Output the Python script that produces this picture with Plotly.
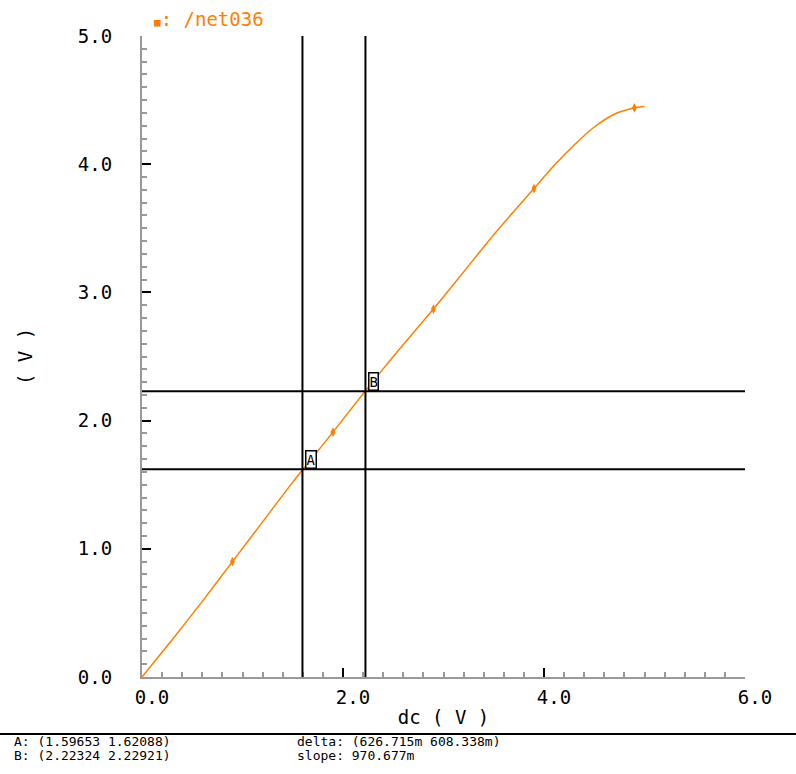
import plotly.graph_objects as go

# DC sweep of /net036
vin = [0.0, 0.3, 0.6, 0.9, 1.2, 1.5, 1.9, 2.2, 2.5, 2.9, 3.2, 3.5, 3.9, 4.1, 4.3, 4.5, 4.7, 4.9, 5.0]
vout = [0.0, 0.29, 0.59, 0.90, 1.21, 1.52, 1.91, 2.21, 2.50, 2.87, 3.16, 3.45, 3.81, 3.99, 4.15, 4.29, 4.39, 4.44, 4.45]
marker_idx = [3, 6, 9, 12, 17]

# cursor readouts
cursor_a = (1.59653, 1.62088)
cursor_b = (2.22324, 2.22921)
delta_mv = (626.715, 608.338)
slope_m = 970.677

x_ticks = [0.0, 2.0, 4.0, 6.0]
y_ticks = [0.0, 1.0, 2.0, 3.0, 4.0, 5.0]

ORANGE = "#ff8000"
MONO = "DejaVu Sans Mono"
W, H = 796, 774
ML, MR, MT, MB = 142, 51, 36, 97
PW, PH = W - ML - MR, H - MT - MB

fig = go.Figure()
fig.add_trace(go.Scatter(
    x=vin, y=vout, mode="lines",
    line=dict(color=ORANGE, width=1.5, shape="spline", smoothing=0.6),
    showlegend=False, hoverinfo="skip"))
fig.add_trace(go.Scatter(
    x=[vin[i] for i in marker_idx], y=[vout[i] for i in marker_idx], mode="markers",
    marker=dict(color=ORANGE, symbol="diamond-tall", size=7),
    showlegend=False, hoverinfo="skip"))

# cursor crosshairs
for cx, cy in (cursor_a, cursor_b):
    fig.add_shape(type="line", xref="x", yref="paper", x0=cx, x1=cx, y0=0, y1=1,
                  line=dict(color="black", width=2))
    fig.add_shape(type="line", xref="paper", yref="y", x0=0, x1=1, y0=cy, y1=cy,
                  line=dict(color="black", width=2))

for name, (cx, cy) in (("A", cursor_a), ("B", cursor_b)):
    fig.add_annotation(x=cx, y=cy, xref="x", yref="y", text=name, showarrow=False,
                       xanchor="left", yanchor="bottom", xshift=3, yshift=0,
                       font=dict(family=MONO, size=14, color="black"),
                       bordercolor="black", borderwidth=1.5, borderpad=0,
                       bgcolor="white")

# bottom rule and readouts
rule_y = (H - MB - 734) / PH
fig.add_shape(type="line", xref="paper", yref="paper",
              x0=-ML / PW, x1=1 + MR / PW, y0=rule_y, y1=rule_y,
              line=dict(color="black", width=2))

readouts = [
    (12, 741, f"A: ({cursor_a[0]:.5f} {cursor_a[1]:.5f})"),
    (12, 755, f"B: ({cursor_b[0]:.5f} {cursor_b[1]:.5f})"),
    (295, 741, f"delta: ({delta_mv[0]:.3f}m {delta_mv[1]:.3f}m)"),
    (295, 755, f"slope: {slope_m:.3f}m"),
]
for px, py, txt in readouts:
    fig.add_annotation(x=(px - ML) / PW, y=(H - MB - py) / PH, xref="paper", yref="paper",
                       text=txt, showarrow=False, xanchor="left", yanchor="middle",
                       font=dict(family=MONO, size=13, color="black"))

# signal name label
fig.add_annotation(x=(152 - ML) / PW, y=(H - MB - 19) / PH, xref="paper", yref="paper",
                   text="<span style='font-size:11px'>■</span>: /net036", showarrow=False,
                   xanchor="left", yanchor="middle",
                   font=dict(family=MONO, size=19, color=ORANGE))

fig.update_xaxes(
    range=[0, 6], tickvals=x_ticks, ticktext=[f"{v:.1f}" for v in x_ticks],
    ticks="inside", ticklen=9, tickwidth=2, tickcolor="black",
    showline=True, linecolor="#999999", linewidth=2,
    showgrid=False, zeroline=False, ticklabelshift=10, ticklabelstandoff=2,
    minor=dict(dtick=0.2, ticks="inside", ticklen=5, tickcolor="#999999", tickwidth=1.5, showgrid=False),
    tickfont=dict(family=MONO, size=19, color="black"),
    title=dict(text="dc ( V )", font=dict(family=MONO, size=19, color="black"), standoff=4),
)
fig.update_yaxes(
    range=[0, 5], tickvals=y_ticks, ticktext=[f"{v:.1f}" for v in y_ticks],
    ticks="inside", ticklen=9, tickwidth=2, tickcolor="black",
    showline=True, linecolor="#999999", linewidth=2,
    showgrid=False, zeroline=False, ticklabelstandoff=24,
    minor=dict(dtick=0.1, ticks="inside", ticklen=5, tickcolor="#999999", tickwidth=1.5, showgrid=False),
    tickfont=dict(family=MONO, size=19, color="black"),
    title=dict(text="( V )", font=dict(family=MONO, size=19, color="black"), standoff=40),
)

fig.update_layout(
    width=W, height=H, margin=dict(l=ML, r=MR, t=MT, b=MB),
    paper_bgcolor="white", plot_bgcolor="white", showlegend=False,
)

fig.write_html("out.html")
